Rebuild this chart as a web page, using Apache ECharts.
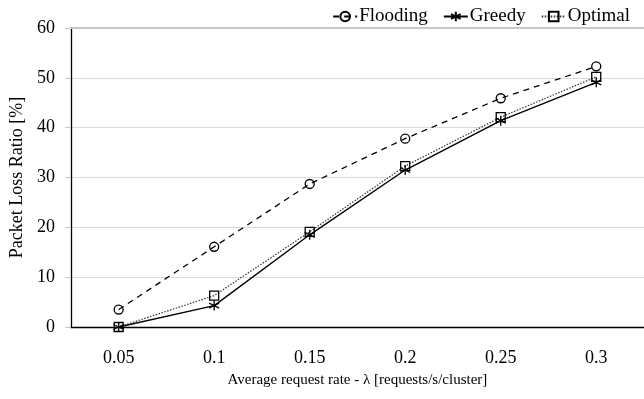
<!DOCTYPE html>
<html>
<head>
<meta charset="utf-8">
<script src="https://cdn.jsdelivr.net/npm/echarts@6/dist/echarts.min.js"></script>
<style>html,body{margin:0;padding:0;background:#fff}#c{width:644px;height:399px}</style>
</head>
<body>
<div id="c"></div>
<script>
const categories = ['0.05', '0.1', '0.15', '0.2', '0.25', '0.3'];
const flooding = [3.5, 16.1, 28.7, 37.8, 45.9, 52.3];
const greedy = [0, 4.3, 18.5, 31.5, 41.4, 49.1];
const optimal = [0, 6.3, 19.1, 32.3, 42.1, 50.2];
const yTicks = { min: 0, max: 60, interval: 10 };

const FONT = 'Liberation Serif';
// six-armed asterisk: one vertical stroke and two diagonals
const asterisk = 'path://M0,-10L0,10M-8.66,-5L8.66,5M-8.66,5L8.66,-5';

const chart = echarts.init(document.getElementById('c'), null, { renderer: 'canvas' });
chart.setOption({
  animation: false,
  backgroundColor: '#fff',
  textStyle: { fontFamily: FONT, color: '#000' },
  grid: { left: 70, top: 28, width: 580, height: 299, containLabel: false },
  legend: {
    top: 2, right: 9,
    itemWidth: 24, itemHeight: 12, itemGap: 15,
    textStyle: { fontFamily: FONT, fontSize: 19, color: '#000', padding: [0, 0, 0, -3] },
    data: ['Flooding', 'Greedy', 'Optimal']
  },
  xAxis: [{
    type: 'category',
    data: categories,
    boundaryGap: true,
    axisLine: { lineStyle: { color: '#000', width: 1.3 } },
    axisTick: { show: false },
    axisLabel: { fontFamily: FONT, fontSize: 18, color: '#000', margin: 22 },
    name: 'Average request rate - λ [requests/s/cluster]',
    nameLocation: 'middle', nameGap: 46,
    nameTextStyle: { fontFamily: FONT, fontSize: 15, color: '#000' }
  }, {
    type: 'category',
    data: categories,
    position: 'top',
    axisLine: { lineStyle: { color: '#c8c8c8', width: 2 } },
    axisTick: { show: false },
    axisLabel: { show: false }
  }],
  yAxis: {
    type: 'value',
    min: yTicks.min, max: yTicks.max, interval: yTicks.interval,
    axisLine: { show: true, lineStyle: { color: '#000', width: 1.3 } },
    axisTick: { show: true, length: 6, lineStyle: { color: '#c8c8c8' } },
    splitLine: { lineStyle: { color: '#d9d9d9', width: 1 } },
    axisLabel: { fontFamily: FONT, fontSize: 18, color: '#000', margin: 16 },
    name: 'Packet Loss Ratio [%]',
    nameLocation: 'middle', nameGap: 41,
    nameTextStyle: { fontFamily: FONT, fontSize: 18, color: '#000' }
  },
  series: [{
    name: 'Flooding', type: 'line', data: flooding,
    symbol: 'circle', symbolSize: 9,
    itemStyle: { color: 'rgba(255,255,255,0)', borderColor: '#000', borderWidth: 1.3 },
    lineStyle: { color: '#000', width: 1.3, type: [6, 5] },
    z: 3
  }, {
    name: 'Greedy', type: 'line', data: greedy,
    symbol: asterisk, symbolSize: 10,
    itemStyle: { color: 'none', borderColor: '#000', borderWidth: 1.3 },
    lineStyle: { color: '#000', width: 1.4, type: 'solid' },
    z: 4
  }, {
    name: 'Optimal', type: 'line', data: optimal,
    symbol: 'rect', symbolSize: 9,
    itemStyle: { color: 'rgba(255,255,255,0)', borderColor: '#000', borderWidth: 1.3 },
    lineStyle: { color: '#333', width: 1.2, type: [1.5, 1.5] },
    z: 2
  }]
});
</script>
</body>
</html>
